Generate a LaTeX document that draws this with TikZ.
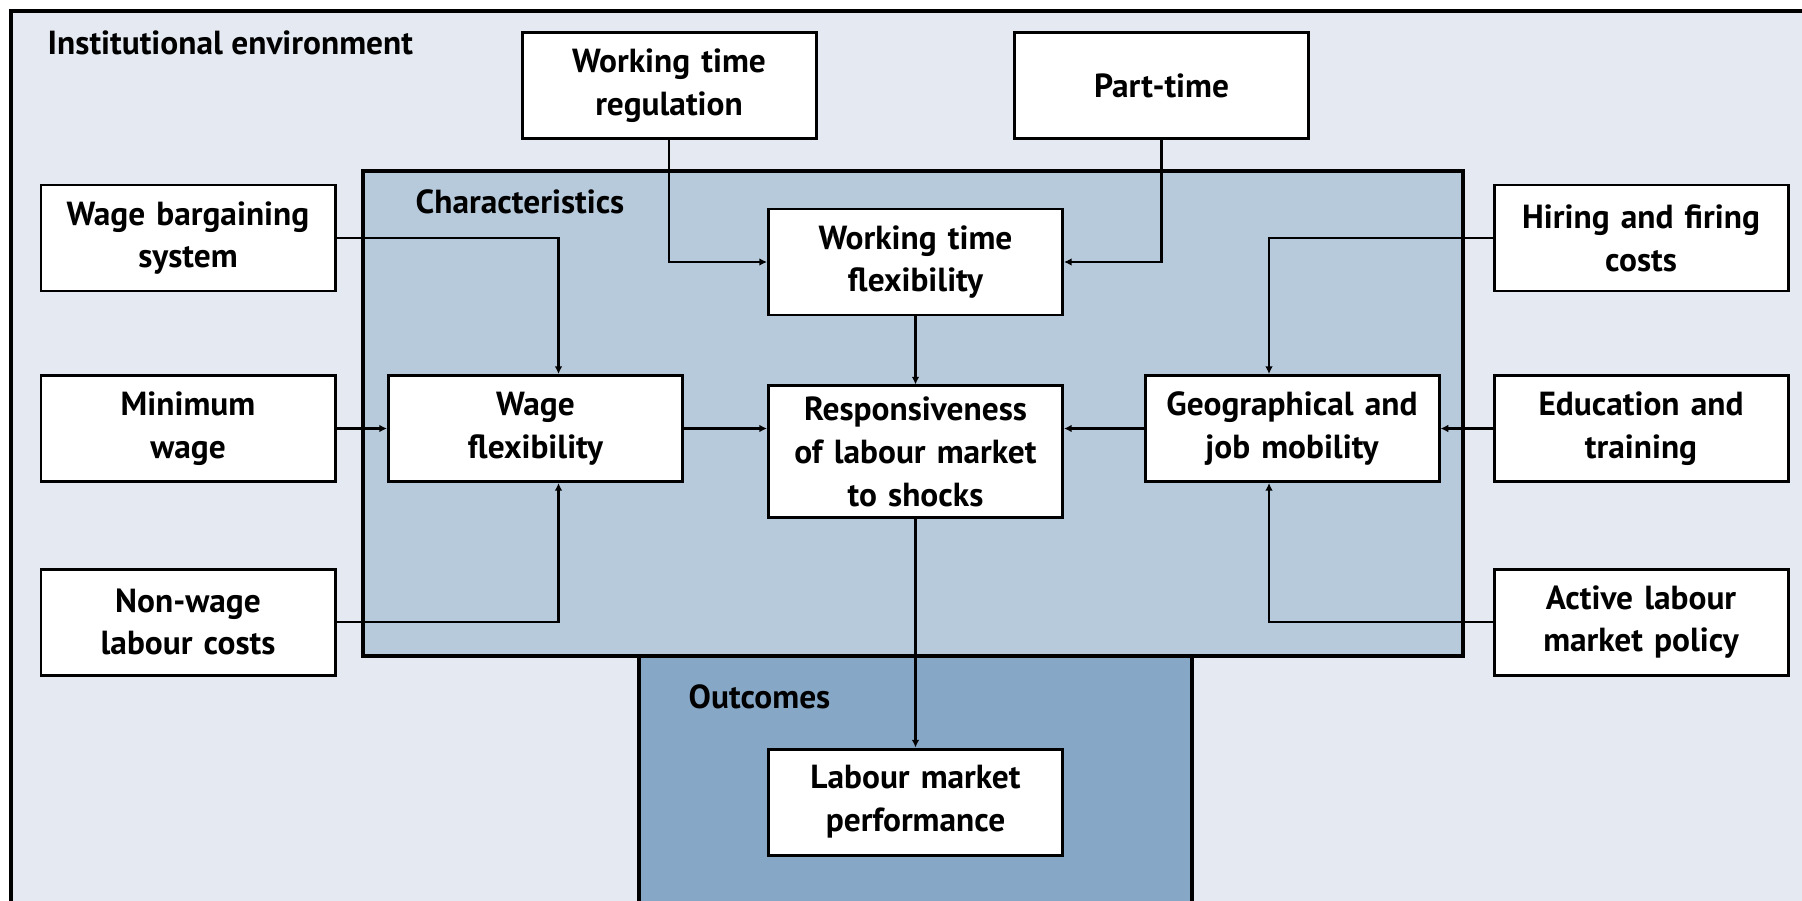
\documentclass[tikz,border=0pt]{standalone}
\usepackage{fontspec}
\setmainfont{PT Sans}
\usetikzlibrary{arrows.meta}
\definecolor{envblue}{RGB}{229,234,242}
\definecolor{charblue}{RGB}{183,202,220}
\definecolor{outblue}{RGB}{134,168,198}
\newcommand{\boxfont}{\bfseries\fontsize{9.5}{12.2}\selectfont}
\newcommand{\factor}[4][]
{
	\node [factor] (#1) at (#2, #3) {#4};
}
\newcommand{\influence}[3][--]{
	\path [link] (#2) #1 (#3);
}
\tikzset{
	factor/.style={draw, line width=0.85pt, fill=white, text width=2.8cm, align=center,
		minimum width=2.94cm, minimum height=1.06cm, inner xsep=1pt, inner ysep=3pt, font=\boxfont},
	link/.style={draw, line width=0.6pt, -{Latex[length=2.2pt,width=2.2pt]}},
	area/.style={draw, line width=1pt},
	arealabel/.style={anchor=base west, inner sep=0pt, font=\boxfont}
}

\begin{document}
\begin{tikzpicture}
		\useasboundingbox (0,0) rectangle (18.02,9.00);
		\clip (0,0) rectangle (18.02,9.00);
		\draw [area, fill=envblue] (0.11,8.89) rectangle (18.6,-0.6);
		\draw [area, fill=charblue] (3.63,7.29) rectangle (14.63,2.44);
		\draw [area, fill=outblue] (6.39,2.44) rectangle (11.92,-0.6);
		\node [arealabel] (inst) at (0.47,8.45) {Institutional environment};
		\node [arealabel] (chars) at (4.15,6.87) {Characteristics};
		\node [arealabel] (outc) at (6.88,1.92) {Outcomes};
		
		\factor[WTR]{6.69}{8.145}{Working time\\regulation}
		\factor[PT]{11.615}{8.145}{Part-time}
		\factor[WBS]{1.88}{6.62}{Wage bargaining\\system}
		\factor[HFC]{16.41}{6.62}{Hiring and firing\\costs}
		\factor[WTF]{9.155}{6.38}{Working time\\flexibility}
		\factor[MW]{1.88}{4.715}{Minimum\\wage}
		\factor[WF]{5.355}{4.715}{Wage\\flexibility}
		\factor[Resp]{9.155}{4.485}{Responsiveness\\of labour market\\to shocks}
		\factor[GJM]{12.92}{4.715}{Geographical and\\job mobility}
		\factor[EDU]{16.41}{4.715}{Education and\\training}
		\factor[NWL]{1.88}{2.78}{Non-wage\\labour costs}
		\factor[ALMP]{16.41}{2.78}{Active labour\\market policy}
		\factor[LMP]{9.155}{0.98}{Labour market\\performance}
		
		\coordinate (wfN) at ([xshift=2.3mm]WF.north);
		\coordinate (wfS) at ([xshift=2.3mm]WF.south);
		\coordinate (gjN) at ([xshift=-2.3mm]GJM.north);
		\coordinate (gjS) at ([xshift=-2.3mm]GJM.south);
		
		\influence[|-]{WTR.south}{WTF.west}
		\influence[|-]{PT.south}{WTF.east}
		\influence[-|]{WBS.east}{wfN}
		\influence{MW.east}{WF.west}
		\influence[-|]{NWL.east}{wfS}
		\influence{WF.east}{WF.east -| Resp.west}
		\influence{WTF.south}{Resp.north}
		\influence{GJM.west}{GJM.west -| Resp.east}
		\influence[-|]{HFC.west}{gjN}
		\influence{EDU.west}{GJM.east}
		\influence[-|]{ALMP.west}{gjS}
		\influence{Resp.south}{LMP.north}
\end{tikzpicture}
\end{document}
